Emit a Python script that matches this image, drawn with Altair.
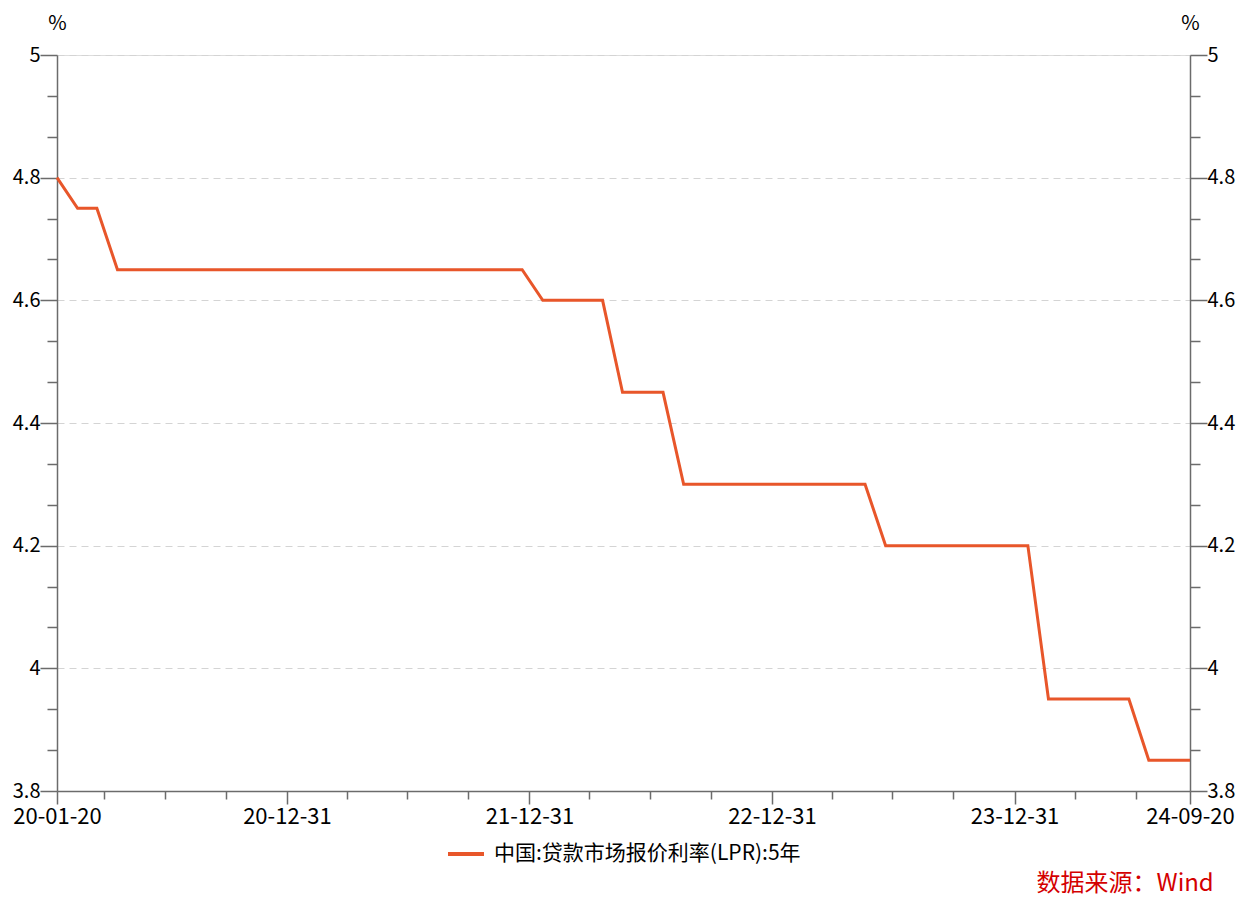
import altair as alt
import pandas as pd

dates = [
    "2020-01-20", "2020-02-20", "2020-03-20", "2020-04-20", "2020-05-20", "2020-06-20",
    "2020-07-20", "2020-08-20", "2020-09-20", "2020-10-20", "2020-11-20", "2020-12-20",
    "2021-01-20", "2021-02-20", "2021-03-20", "2021-04-20", "2021-05-20", "2021-06-20",
    "2021-07-20", "2021-08-20", "2021-09-20", "2021-10-20", "2021-11-20", "2021-12-20",
    "2022-01-20", "2022-02-20", "2022-03-20", "2022-04-20", "2022-05-20", "2022-06-20",
    "2022-07-20", "2022-08-20", "2022-09-20", "2022-10-20", "2022-11-20", "2022-12-20",
    "2023-01-20", "2023-02-20", "2023-03-20", "2023-04-20", "2023-05-20", "2023-06-20",
    "2023-07-20", "2023-08-20", "2023-09-20", "2023-10-20", "2023-11-20", "2023-12-20",
    "2024-01-20", "2024-02-20", "2024-03-20", "2024-04-20", "2024-05-20", "2024-06-20",
    "2024-07-20", "2024-08-20", "2024-09-20",
]
lpr5y = [
    4.80, 4.75, 4.75, 4.65, 4.65, 4.65,
    4.65, 4.65, 4.65, 4.65, 4.65, 4.65,
    4.65, 4.65, 4.65, 4.65, 4.65, 4.65,
    4.65, 4.65, 4.65, 4.65, 4.65, 4.65,
    4.60, 4.60, 4.60, 4.60, 4.45, 4.45,
    4.45, 4.30, 4.30, 4.30, 4.30, 4.30,
    4.30, 4.30, 4.30, 4.30, 4.30, 4.20,
    4.20, 4.20, 4.20, 4.20, 4.20, 4.20,
    4.20, 3.95, 3.95, 3.95, 3.95, 3.95,
    3.85, 3.85, 3.85,
]
series_name = "中国:贷款市场报价利率(LPR):5年"

# x-axis ticks: start, quarter ends, end (labels on start, year ends, end)
x_tick_dates = [
    (2020, 1, 20), (2020, 3, 31), (2020, 6, 30), (2020, 9, 30), (2020, 12, 31),
    (2021, 3, 31), (2021, 6, 30), (2021, 9, 30), (2021, 12, 31),
    (2022, 3, 31), (2022, 6, 30), (2022, 9, 30), (2022, 12, 31),
    (2023, 3, 31), (2023, 6, 30), (2023, 9, 30), (2023, 12, 31),
    (2024, 3, 31), (2024, 6, 30), (2024, 9, 20),
]
# y-axis ticks: majors every 0.2, two minors between
y_ticks = [
    3.8, 3.8666667, 3.9333333, 4.0, 4.0666667, 4.1333333, 4.2, 4.2666667, 4.3333333,
    4.4, 4.4666667, 4.5333333, 4.6, 4.6666667, 4.7333333, 4.8, 4.8666667, 4.9333333, 5.0,
]

df = pd.DataFrame({"date": dates, "value": lpr5y, "series": series_name})

FONT = "Noto Sans CJK SC"
LINE_COLOR = "#E8562A"
AXIS_COLOR = "#6b6b6b"

x_major = "(utcmonth(datum.value) == 11 || utcdate(datum.value) == 20)"
y_major = "(abs(datum.value * 5 - round(datum.value * 5)) < 0.001)"

x_axis = alt.Axis(
    values=[alt.DateTime(year=y, month=m, date=d, utc=True) for (y, m, d) in x_tick_dates],
    labelExpr=f"{x_major} ? utcFormat(datum.value, '%y-%m-%d') : ''",
    labelOverlap=False,
    labelFlush=False,
    labelFont=FONT,
    labelFontSize=22,
    labelColor="#000000",
    labelPadding=2,
    tickSize={"condition": {"test": x_major, "value": 13}, "value": 8},
    tickColor=AXIS_COLOR,
    tickWidth=1.5,
    domainColor=AXIS_COLOR,
    domainWidth=1.5,
    grid=False,
    title=None,
)


def y_axis(orient):
    return alt.Axis(
        orient=orient,
        values=y_ticks,
        labelExpr=f"{y_major} ? format(datum.value, '.1~f') : ''",
        labelOverlap=False,
        labelFlush=False,
        labelFont=FONT,
        labelFontSize=20,
        labelColor="#000000",
        labelPadding=0,
        tickSize={"condition": {"test": y_major, "value": 17}, "value": 10},
        tickColor=AXIS_COLOR,
        tickWidth=1.5,
        domainColor=AXIS_COLOR,
        domainWidth=1.5,
        grid=(orient == "left"),
        gridColor="#d4d4d4",
        gridDash=[7, 5],
        gridWidth=1,
        gridOpacity={"condition": {"test": f"{y_major} && datum.value > 3.81", "value": 1}, "value": 0},
        title="%",
        titleAngle=0,
        titleX=0,
        titleY=-32,
        titleAlign="center",
        titleBaseline="middle",
        titleFont=FONT,
        titleFontSize=20,
        titleFontWeight="normal",
        titleColor="#000000",
    )


x_enc = alt.X(
    "date:T",
    scale=alt.Scale(
        type="utc",
        domain=[alt.DateTime(year=2020, month=1, date=20, utc=True),
                alt.DateTime(year=2024, month=9, date=20, utc=True)],
        nice=False,
    ),
    axis=x_axis,
)
y_scale = alt.Scale(domain=[3.8, 5.0], nice=False, zero=False)

line = alt.Chart(df).mark_line(strokeWidth=3).encode(
    x=x_enc,
    y=alt.Y("value:Q", scale=y_scale, axis=y_axis("left")),
    color=alt.Color(
        "series:N",
        scale=alt.Scale(domain=[series_name], range=[LINE_COLOR]),
        legend=alt.Legend(
            title=None,
            orient="none",
            legendX=389,
            legendY=779,
            symbolType="stroke",
            symbolSize=1296,
            symbolStrokeWidth=4,
            labelFont=FONT,
            labelFontSize=21,
            labelColor="#000000",
            labelOffset=8,
            labelLimit=0,
            padding=0,
        ),
    ),
)

right = alt.Chart(df).mark_line(strokeWidth=3, opacity=0).encode(
    x=x_enc,
    y=alt.Y("value:Q", scale=y_scale, axis=y_axis("right")),
)

chart = (
    alt.layer(line, right)
    .resolve_axis(y="independent")
    .properties(
        width=1133,
        height=736,
        autosize=alt.AutoSizeParams(type="none"),
        padding={"left": 49, "top": 47, "right": 51, "bottom": 107},
        title=alt.TitleParams(
            "数据来源：Wind",
            orient="bottom",
            anchor="end",
            color="#D40000",
            font=FONT,
            fontSize=24,
            fontWeight="normal",
            dx=-21,
            offset=8,
        ),
    )
    .configure_view(stroke=None)
    .configure(background="white")
)

chart.save("out.html", embed_options={"renderer": "svg", "actions": False})
